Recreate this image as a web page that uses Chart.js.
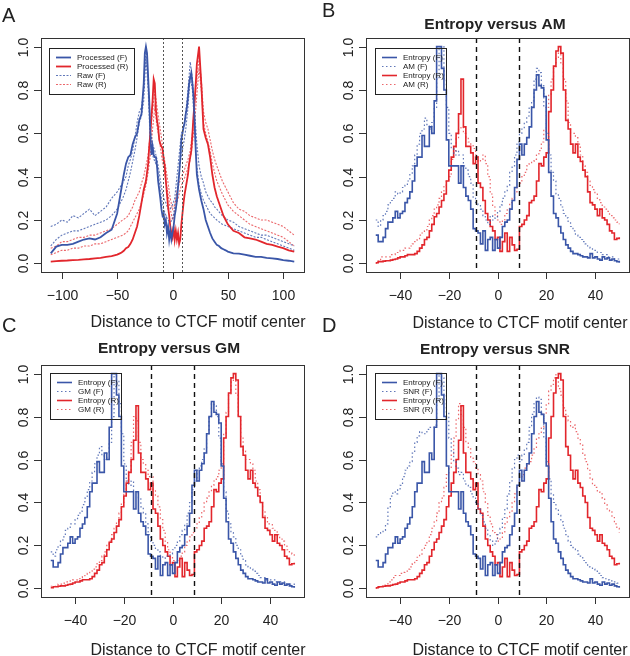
<!DOCTYPE html>
<html>
<head>
<meta charset="utf-8">
<script src="https://cdn.jsdelivr.net/npm/chart.js@4"></script>
<style>
  body { margin: 0; background: #fff; }
  #wrap { position: relative; width: 630px; height: 656px; }
  #wrap canvas { position: absolute; left: 0; top: 0; }
</style>
</head>
<body>
<div id="wrap">
  <canvas id="chartA" width="630" height="656"></canvas>
  <canvas id="chartB" width="630" height="656"></canvas>
  <canvas id="chartC" width="630" height="656"></canvas>
  <canvas id="chartD" width="630" height="656"></canvas>
</div>
<script>
// ---- data ----
const xLabel = "Distance to CTCF motif center";
const yTicks = [0, 0.2, 0.4, 0.6, 0.8, 1.0];
const xTicksWide = [-100, -50, 0, 50, 100];
const xTicksNarrow = [-40, -20, 0, 20, 40];
const motifEdges = [-9, 9];

// panel A: processed profiles
const posProc = [-110,-105,-100,-95,-90,-85,-80,-75,-70,-65,-60,-55,-50,
  -48,-46,-44,-42,-40,-38,-36,-34,-32,-30,-28,-26,
  -25,-24,-23,-22,-21,-20,-19,-18,-17,-16,-15,-14,-13,-12,-11,-10,-9,-8,-7,-6,-5,-4,-3,-2,-1,
  0,1,2,3,4,5,6,7,8,9,10,11,12,13,14,15,16,17,18,19,20,21,22,
  24,26,28,30,32,34,36,38,40,42,44,46,48,50,
  55,60,65,70,75,80,85,90,95,100,105,110];
const processedF = [0.046,0.077,0.085,0.085,0.09,0.10,0.11,0.115,0.11,0.12,0.14,0.155,0.23,
  0.29,0.35,0.41,0.46,0.49,0.50,0.55,0.58,0.60,0.66,0.69,0.83,
  0.97,1.0,0.97,0.86,0.75,0.60,0.50,0.54,0.50,0.49,0.49,0.45,0.38,0.34,0.30,0.25,0.22,0.23,0.18,0.20,0.14,0.17,0.11,0.15,0.11,
  0.14,0.17,0.22,0.25,0.29,0.35,0.41,0.48,0.57,0.60,0.63,0.65,0.69,0.72,0.77,0.83,0.86,0.88,0.83,0.77,0.65,0.52,0.41,
  0.34,0.29,0.25,0.20,0.17,0.14,0.115,0.10,0.085,0.08,0.07,0.065,0.06,0.054,
  0.046,0.045,0.04,0.035,0.03,0.03,0.025,0.023,0.02,0.015,0.012,0.008];
const processedR = [0.008,0.01,0.012,0.013,0.015,0.016,0.018,0.02,0.023,0.025,0.03,0.033,0.04,
  0.045,0.05,0.058,0.07,0.075,0.09,0.11,0.14,0.17,0.22,0.28,0.34,
  0.36,0.38,0.42,0.46,0.54,0.60,0.68,0.75,0.85,0.83,0.71,0.66,0.63,0.57,0.55,0.54,0.53,0.48,0.45,0.38,0.32,0.26,0.22,0.17,0.14,
  0.12,0.17,0.11,0.15,0.11,0.14,0.09,0.11,0.18,0.23,0.28,0.32,0.35,0.38,0.41,0.46,0.49,0.52,0.60,0.68,0.75,0.83,0.92,
  1.0,0.83,0.62,0.58,0.55,0.49,0.41,0.35,0.31,0.28,0.25,0.22,0.20,0.18,
  0.15,0.14,0.12,0.115,0.11,0.10,0.09,0.085,0.077,0.07,0.06,0.054];

// panel A: raw profiles (two replicates each)
const posRaw = [-110,-105,-100,-95,-90,-85,-80,-75,-70,-65,-60,-55,-50,-45,
  -42,-40,-38,-36,-34,-32,-30,-28,-26,-24,-22,-20,-18,-16,-14,-12,-10,-8,-6,-4,-2,
  0,2,4,6,8,10,12,14,16,18,20,22,24,26,28,30,32,34,36,38,40,
  45,50,55,60,65,70,75,80,85,90,95,100,105,110];
const rawF1 = [0.17,0.18,0.20,0.19,0.22,0.21,0.23,0.25,0.22,0.24,0.26,0.30,0.33,0.37,
  0.40,0.45,0.48,0.52,0.58,0.65,0.70,0.72,0.80,1.0,0.85,0.62,0.55,0.52,0.48,0.42,0.35,0.30,0.28,0.25,0.25,
  0.27,0.30,0.40,0.50,0.60,0.62,0.70,0.80,0.93,0.85,0.70,0.55,0.45,0.40,0.37,0.33,0.31,0.29,0.28,0.26,0.25,
  0.22,0.20,0.19,0.17,0.16,0.15,0.14,0.13,0.13,0.12,0.11,0.10,0.09,0.08];
const rawF2 = [0.08,0.11,0.13,0.14,0.15,0.15,0.16,0.17,0.18,0.19,0.20,0.22,0.25,0.30,
  0.34,0.38,0.42,0.47,0.52,0.58,0.65,0.68,0.75,0.95,0.80,0.55,0.50,0.47,0.45,0.38,0.30,0.25,0.22,0.20,0.19,
  0.20,0.26,0.33,0.42,0.50,0.55,0.62,0.72,0.86,0.80,0.62,0.45,0.36,0.32,0.29,0.27,0.25,0.23,0.22,0.21,0.20,
  0.18,0.17,0.16,0.15,0.14,0.13,0.12,0.12,0.11,0.10,0.09,0.08,0.07,0.06];
const rawR1 = [0.07,0.08,0.10,0.10,0.11,0.12,0.12,0.13,0.13,0.14,0.15,0.16,0.18,0.20,
  0.21,0.22,0.24,0.26,0.29,0.31,0.33,0.37,0.40,0.45,0.50,0.60,0.70,0.80,0.72,0.65,0.58,0.50,0.44,0.37,0.30,
  0.25,0.27,0.33,0.37,0.40,0.42,0.45,0.48,0.52,0.60,0.75,0.85,0.95,0.85,0.70,0.65,0.62,0.57,0.52,0.48,0.45,
  0.38,0.33,0.28,0.25,0.24,0.22,0.21,0.20,0.20,0.19,0.18,0.17,0.15,0.13];
const rawR2 = [0.04,0.05,0.06,0.06,0.07,0.07,0.08,0.08,0.09,0.09,0.10,0.11,0.12,0.13,
  0.14,0.15,0.17,0.19,0.21,0.23,0.25,0.28,0.32,0.36,0.42,0.50,0.62,0.72,0.63,0.58,0.50,0.44,0.38,0.32,0.25,
  0.20,0.24,0.28,0.32,0.36,0.38,0.41,0.44,0.48,0.55,0.65,0.78,0.90,0.80,0.65,0.60,0.56,0.52,0.46,0.42,0.38,
  0.32,0.27,0.24,0.22,0.20,0.18,0.17,0.16,0.15,0.14,0.13,0.12,0.10,0.08];

// panels B-D: positions -50..50
const dist = [-50,-49,-48,-47,-46,-45,-44,-43,-42,-41,-40,-39,-38,-37,-36,-35,-34,-33,-32,-31,
  -30,-29,-28,-27,-26,-25,-24,-23,-22,-21,-20,-19,-18,-17,-16,-15,-14,-13,-12,-11,
  -10,-9,-8,-7,-6,-5,-4,-3,-2,-1,0,1,2,3,4,5,6,7,8,9,
  10,11,12,13,14,15,16,17,18,19,20,21,22,23,24,25,26,27,28,29,
  30,31,32,33,34,35,36,37,38,39,40,41,42,43,44,45,46,47,48,49,50];

const entropyF = [
  0.13,0.10,0.10,0.12,0.16,0.19,0.19,0.21,0.24,0.21,
  0.23,0.24,0.28,0.30,0.33,0.38,0.45,0.49,0.49,0.59,
  0.54,0.54,0.63,0.60,0.75,1.00,1.00,0.90,0.80,0.57,
  0.45,0.45,0.45,0.45,0.37,0.45,0.35,0.31,0.29,0.25,
  0.16,0.15,0.14,0.09,0.15,0.06,0.11,0.12,0.06,0.11,
  0.07,0.12,0.17,0.19,0.20,0.25,0.29,0.35,0.48,0.55,
  0.50,0.55,0.58,0.63,0.72,0.80,0.87,0.82,0.81,0.77,
  0.57,0.42,0.31,0.23,0.21,0.17,0.14,0.11,0.085,0.07,
  0.055,0.045,0.045,0.04,0.035,0.03,0.03,0.025,0.045,0.025,
  0.03,0.02,0.015,0.03,0.02,0.025,0.015,0.02,0.012,0.008,
  0.003];
const entropyR = [
  0.003,0.008,0.008,0.01,0.012,0.012,0.015,0.018,0.02,0.025,
  0.03,0.03,0.035,0.04,0.04,0.04,0.045,0.055,0.07,0.085,
  0.11,0.12,0.15,0.18,0.215,0.23,0.26,0.29,0.32,0.38,
  0.43,0.49,0.54,0.60,0.69,0.85,0.63,0.54,0.54,0.51,
  0.46,0.49,0.37,0.35,0.29,0.23,0.20,0.17,0.15,0.11,
  0.12,0.055,0.10,0.14,0.055,0.12,0.085,0.06,0.065,0.17,
  0.18,0.20,0.22,0.28,0.29,0.31,0.38,0.46,0.45,0.49,
  0.51,0.70,0.80,0.91,0.98,1.00,0.97,0.80,0.66,0.62,
  0.55,0.51,0.55,0.49,0.47,0.43,0.40,0.33,0.28,0.27,
  0.25,0.22,0.25,0.21,0.20,0.18,0.15,0.14,0.11,0.115,
  0.12];
const amF = [
  0.20,0.17,0.20,0.22,0.24,0.27,0.29,0.30,0.33,0.32,
  0.33,0.35,0.36,0.38,0.41,0.45,0.50,0.55,0.60,0.62,
  0.67,0.64,0.62,0.65,0.72,0.85,1.00,1.00,0.85,0.72,
  0.60,0.53,0.50,0.52,0.50,0.50,0.45,0.43,0.40,0.37,
  0.30,0.28,0.27,0.25,0.22,0.20,0.18,0.22,0.20,0.21,
  0.24,0.27,0.30,0.33,0.36,0.42,0.45,0.50,0.56,0.60,
  0.62,0.65,0.68,0.72,0.75,0.85,0.90,0.88,0.82,0.72,
  0.60,0.50,0.42,0.38,0.32,0.30,0.26,0.23,0.21,0.19,
  0.17,0.15,0.13,0.12,0.11,0.10,0.09,0.08,0.07,0.06,
  0.06,0.05,0.05,0.04,0.04,0.03,0.03,0.03,0.02,0.02,
  0.02];
const amR = [
  0.00,0.01,0.03,0.03,0.03,0.03,0.04,0.04,0.05,0.05,
  0.06,0.06,0.07,0.07,0.08,0.09,0.10,0.11,0.13,0.14,
  0.15,0.17,0.20,0.22,0.25,0.27,0.30,0.33,0.36,0.38,
  0.40,0.48,0.52,0.58,0.62,0.63,0.60,0.58,0.56,0.55,
  0.53,0.50,0.47,0.48,0.50,0.46,0.40,0.32,0.26,0.22,
  0.20,0.18,0.20,0.23,0.25,0.28,0.30,0.33,0.35,0.37,
  0.40,0.42,0.45,0.46,0.47,0.48,0.50,0.52,0.56,0.62,
  0.72,0.78,0.85,0.90,0.95,0.97,0.92,0.85,0.75,0.65,
  0.60,0.60,0.58,0.55,0.50,0.45,0.42,0.38,0.36,0.34,
  0.32,0.30,0.28,0.26,0.25,0.24,0.22,0.21,0.20,0.19,
  0.18];
const gmF = [
  0.17,0.15,0.18,0.20,0.22,0.24,0.27,0.28,0.30,0.30,
  0.32,0.34,0.36,0.39,0.42,0.46,0.50,0.54,0.58,0.62,
  0.66,0.62,0.60,0.63,0.68,0.80,1.00,0.97,0.86,0.72,
  0.58,0.50,0.48,0.50,0.45,0.45,0.42,0.38,0.35,0.30,
  0.25,0.22,0.20,0.18,0.17,0.15,0.14,0.15,0.15,0.16,
  0.18,0.20,0.22,0.25,0.27,0.30,0.35,0.40,0.46,0.50,
  0.55,0.57,0.60,0.65,0.72,0.80,0.86,0.85,0.80,0.70,
  0.58,0.45,0.36,0.30,0.26,0.24,0.20,0.18,0.15,0.13,
  0.11,0.10,0.09,0.08,0.07,0.06,0.05,0.05,0.04,0.04,
  0.04,0.04,0.03,0.03,0.03,0.03,0.02,0.02,0.02,0.02,
  0.01];
const gmR = [
  0.01,0.01,0.015,0.02,0.02,0.025,0.03,0.03,0.035,0.04,
  0.04,0.045,0.05,0.055,0.06,0.07,0.08,0.09,0.10,0.115,
  0.13,0.15,0.17,0.20,0.22,0.25,0.28,0.31,0.35,0.40,
  0.45,0.50,0.55,0.68,0.80,0.78,0.68,0.60,0.58,0.55,
  0.52,0.52,0.46,0.43,0.38,0.32,0.27,0.22,0.18,0.15,
  0.13,0.12,0.13,0.15,0.17,0.20,0.22,0.24,0.26,0.28,
  0.30,0.33,0.36,0.40,0.42,0.45,0.48,0.50,0.52,0.55,
  0.60,0.72,0.82,0.90,0.96,0.97,0.90,0.80,0.70,0.64,
  0.60,0.60,0.58,0.55,0.50,0.46,0.40,0.36,0.33,0.30,
  0.30,0.28,0.27,0.25,0.23,0.22,0.20,0.18,0.17,0.16,
  0.15];
const snrF = [
  0.24,0.25,0.26,0.27,0.30,0.38,0.43,0.45,0.44,0.46,
  0.48,0.52,0.55,0.57,0.59,0.63,0.68,0.71,0.73,0.72,
  0.72,0.74,0.75,0.75,0.76,0.87,1.00,0.98,0.90,0.82,
  0.70,0.64,0.59,0.56,0.53,0.54,0.50,0.48,0.47,0.44,
  0.42,0.40,0.37,0.34,0.31,0.28,0.25,0.22,0.20,0.22,
  0.25,0.28,0.33,0.37,0.44,0.50,0.56,0.60,0.62,0.59,
  0.62,0.65,0.68,0.75,0.81,0.86,0.89,0.88,0.81,0.70,
  0.59,0.51,0.44,0.40,0.37,0.34,0.31,0.28,0.25,0.22,
  0.20,0.19,0.18,0.16,0.15,0.13,0.12,0.10,0.095,0.09,
  0.08,0.07,0.06,0.05,0.045,0.04,0.035,0.03,0.03,0.025,
  0.02];
const snrR = [
  0.00,0.005,0.01,0.015,0.02,0.03,0.04,0.05,0.06,0.06,
  0.07,0.075,0.08,0.09,0.10,0.115,0.13,0.145,0.16,0.18,
  0.20,0.22,0.25,0.28,0.31,0.35,0.40,0.42,0.47,0.53,
  0.56,0.62,0.70,0.79,0.86,0.81,0.75,0.68,0.65,0.61,
  0.59,0.56,0.53,0.50,0.45,0.40,0.34,0.30,0.26,0.25,
  0.22,0.23,0.26,0.30,0.33,0.36,0.40,0.44,0.47,0.50,
  0.53,0.56,0.57,0.59,0.62,0.65,0.70,0.72,0.75,0.81,
  0.86,0.92,0.95,0.98,1.00,0.93,0.90,0.84,0.81,0.78,
  0.75,0.76,0.73,0.70,0.67,0.62,0.59,0.55,0.51,0.48,
  0.47,0.45,0.44,0.42,0.39,0.37,0.36,0.33,0.30,0.28,
  0.26];

// ---- styling ----
const FONT = '"Liberation Sans", Arial, Helvetica, sans-serif';
const blue = "#3a56a8";
const red = "#e2262c";
const blueDot = "rgba(58,86,168,0.8)";
const redDot = "rgba(226,38,44,0.7)";

function series(label, xs, ys, color, extra) {
  return Object.assign({
    label,
    data: xs.map((x, i) => ({ x, y: ys[i] })),
    borderColor: color,
    borderWidth: 1.6,
    pointRadius: 0,
    fill: false,
    tension: 0
  }, extra);
}

// draws frame, axes, texts, legend and the motif edge markers
const decor = {
  id: "decor",
  afterDatasetsDraw(chart, args, o) {
    const { ctx, chartArea: a } = chart;
    const sx = chart.scales.x, sy = chart.scales.y;
    ctx.save();

    ctx.strokeStyle = o.edgeColor;
    ctx.lineWidth = o.edgeWidth;
    ctx.setLineDash(o.edgeDash);
    motifEdges.forEach(v => {
      const px = Math.round(sx.getPixelForValue(v)) + 0.5;
      ctx.beginPath(); ctx.moveTo(px, a.top); ctx.lineTo(px, a.bottom); ctx.stroke();
    });
    ctx.setLineDash([]);

    ctx.strokeStyle = "#333";
    ctx.lineWidth = 1;
    ctx.strokeRect(Math.round(a.left) + 0.5, Math.round(a.top) + 0.5,
      Math.round(a.right - a.left), Math.round(a.bottom - a.top));

    ctx.fillStyle = "#222";
    ctx.font = "14px " + FONT;
    ctx.textAlign = "center";
    ctx.textBaseline = "middle";
    o.xTicks.forEach(v => {
      const px = Math.round(sx.getPixelForValue(v)) + 0.5;
      ctx.beginPath(); ctx.moveTo(px, a.bottom); ctx.lineTo(px, a.bottom + 7); ctx.stroke();
      ctx.fillText(String(v).replace("-", "\u2212"), px, a.bottom + 24);
    });
    yTicks.forEach(v => {
      const py = Math.round(sy.getPixelForValue(v)) + 0.5;
      ctx.beginPath(); ctx.moveTo(a.left - 7, py); ctx.lineTo(a.left, py); ctx.stroke();
      ctx.save();
      ctx.translate(a.left - 17, py);
      ctx.rotate(-Math.PI / 2);
      ctx.fillText(v.toFixed(1), 0, 0);
      ctx.restore();
    });

    ctx.font = "16px " + FONT;
    ctx.fillText(xLabel, o.xlab[0], o.xlab[1]);

    if (o.title) {
      ctx.font = "bold 15.5px " + FONT;
      ctx.fillText(o.title, o.titlePos[0], o.titlePos[1]);
    }

    ctx.font = "20px " + FONT;
    ctx.textAlign = "left";
    ctx.textBaseline = "alphabetic";
    ctx.fillText(o.letter, o.letterPos[0], o.letterPos[1]);

    // legend
    const L = o.legend;
    ctx.strokeStyle = "#222";
    ctx.lineWidth = 1;
    ctx.strokeRect(L.x + 0.5, L.y + 0.5, L.w, L.h);
    ctx.font = "8px " + FONT;
    ctx.textBaseline = "middle";
    let row = 0;
    chart.data.datasets.forEach(d => {
      if (!d.label) return;
      const ry = L.y + 9.5 + row * 9;
      ctx.strokeStyle = d.borderColor;
      ctx.lineWidth = d.borderWidth;
      ctx.setLineDash(d.borderDash || []);
      ctx.beginPath(); ctx.moveTo(L.x + 7, ry); ctx.lineTo(L.x + 22, ry); ctx.stroke();
      ctx.setLineDash([]);
      ctx.fillStyle = "#222";
      ctx.fillText(d.label, L.x + 28, ry);
      row++;
    });
    ctx.restore();
  }
};

function makeChart(id, pad, xRange, datasets, decorOpts) {
  return new Chart(document.getElementById(id), {
    type: "line",
    data: { datasets },
    options: {
      responsive: false,
      animation: false,
      events: [],
      layout: { padding: pad },
      scales: {
        x: { type: "linear", min: -xRange, max: xRange, display: false },
        y: { type: "linear", min: -0.04, max: 1.04, display: false }
      },
      plugins: {
        legend: { display: false },
        tooltip: { enabled: false },
        decor: decorOpts
      }
    },
    plugins: [decor]
  });
}

const stepSolid = { stepped: "before" };
const stepDot = { stepped: "before", borderWidth: 1.2, borderDash: [1.5, 2.5] };
const rawStyle = { borderWidth: 1.1, borderDash: [2, 1.5] };

// A
makeChart("chartA", { left: 41, top: 38, right: 326, bottom: 384 }, 118.8, [
  series("Processed (F)", posProc, processedF, blue, { borderWidth: 1.8 }),
  series("Processed (R)", posProc, processedR, red, { borderWidth: 1.8 }),
  series("Raw (F)", posRaw, rawF1, blueDot, rawStyle),
  series("Raw (R)", posRaw, rawR1, redDot, rawStyle),
  series("", posRaw, rawF2, blueDot, rawStyle),
  series("", posRaw, rawR2, redDot, rawStyle)
], {
  letter: "A", letterPos: [2, 22], xTicks: xTicksWide, xlab: [198, 323],
  edgeColor: "#555", edgeWidth: 1, edgeDash: [2, 2],
  legend: { x: 49, y: 48, w: 85, h: 46 }
});

// B
makeChart("chartB", { left: 366, top: 38, right: 1, bottom: 384 }, 54, [
  series("Entropy (F)", dist, entropyF, blue, stepSolid),
  series("AM (F)", dist, amF, blueDot, stepDot),
  series("Entropy (R)", dist, entropyR, red, stepSolid),
  series("AM (R)", dist, amR, redDot, stepDot)
], {
  letter: "B", letterPos: [322, 17], title: "Entropy versus AM", titlePos: [495, 25],
  xTicks: xTicksNarrow, xlab: [520, 324],
  edgeColor: "#111", edgeWidth: 1.4, edgeDash: [5, 4],
  legend: { x: 375, y: 48, w: 71, h: 46 }
});

// C
makeChart("chartC", { left: 41, top: 365, right: 326, bottom: 59 }, 54, [
  series("Entropy (F)", dist, entropyF, blue, stepSolid),
  series("GM (F)", dist, gmF, blueDot, stepDot),
  series("Entropy (R)", dist, entropyR, red, stepSolid),
  series("GM (R)", dist, gmR, redDot, stepDot)
], {
  letter: "C", letterPos: [2, 332], title: "Entropy versus GM", titlePos: [169, 349],
  xTicks: xTicksNarrow, xlab: [198, 651],
  edgeColor: "#111", edgeWidth: 1.4, edgeDash: [5, 4],
  legend: { x: 50, y: 373, w: 71, h: 46 }
});

// D
makeChart("chartD", { left: 366, top: 365, right: 1, bottom: 59 }, 54, [
  series("Entropy (F)", dist, entropyF, blue, stepSolid),
  series("SNR (F)", dist, snrF, blueDot, stepDot),
  series("Entropy (R)", dist, entropyR, red, stepSolid),
  series("SNR (R)", dist, snrR, redDot, stepDot)
], {
  letter: "D", letterPos: [322, 332], title: "Entropy versus SNR", titlePos: [495, 350],
  xTicks: xTicksNarrow, xlab: [520, 651],
  edgeColor: "#111", edgeWidth: 1.4, edgeDash: [5, 4],
  legend: { x: 375, y: 373, w: 71, h: 46 }
});
</script>
</body>
</html>
